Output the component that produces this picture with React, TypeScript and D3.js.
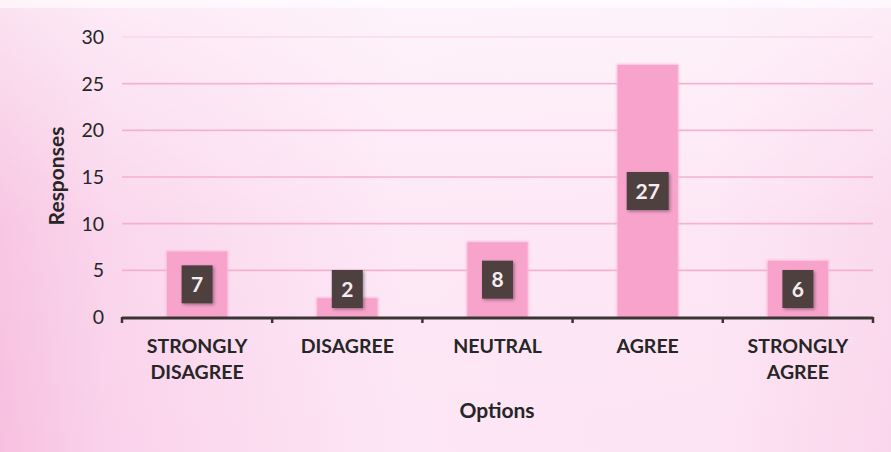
import React from "react";
import * as d3 from "d3";

const categories: string[][] = [
  ["STRONGLY", "DISAGREE"],
  ["DISAGREE"],
  ["NEUTRAL"],
  ["AGREE"],
  ["STRONGLY", "AGREE"],
];
const responses: number[] = [7, 2, 8, 27, 6];
const yTicks: number[] = [0, 5, 10, 15, 20, 25, 30];
const yTitle = "Responses";
const xTitle = "Options";

const W = 891;
const H = 452;
const FONT = "Lato, 'Open Sans', 'DejaVu Sans', sans-serif";

export default function App() {
  const left = 122;
  const right = 873;
  const top = 37;
  const bottom = 317;

  const x = d3
    .scaleBand<number>()
    .domain(d3.range(categories.length))
    .range([left, right])
    .paddingInner(0.6)
    .paddingOuter(0.3);
  const xOuter = d3
    .scaleBand<number>()
    .domain(d3.range(categories.length))
    .range([left, right]);
  const y = d3.scaleLinear().domain([0, 30]).range([bottom, top]);

  const boundaries = d3.range(categories.length + 1).map(
    (i) => left + (i * (right - left)) / categories.length
  );

  return (
    <div style={{ position: "fixed", left: 0, top: 0, width: W, height: H }}>
      <svg width={W} height={H} style={{ display: "block" }}>
        <defs>
          <linearGradient id="bg" x1="0" y1="0" x2="1" y2="0">
            <stop offset="0" stopColor="#f7c0e0" />
            <stop offset="0.12" stopColor="#fad2eb" />
            <stop offset="0.45" stopColor="#fde6f5" />
            <stop offset="0.8" stopColor="#fde4f4" />
            <stop offset="1" stopColor="#fad6ec" />
          </linearGradient>
          <linearGradient id="topfade" x1="0" y1="0" x2="0" y2="1">
            <stop offset="0" stopColor="#ffffff" stopOpacity="0.55" />
            <stop offset="0.5" stopColor="#ffffff" stopOpacity="0.1" />
            <stop offset="1" stopColor="#ffffff" stopOpacity="0" />
          </linearGradient>
          <filter id="shadow" x="-30%" y="-30%" width="160%" height="160%">
            <feDropShadow dx="1.5" dy="1.5" stdDeviation="1.5" floodColor="#000" floodOpacity="0.35" />
          </filter>
          <filter id="glow" x="-10%" y="-10%" width="120%" height="120%">
            <feGaussianBlur stdDeviation="1" />
          </filter>
        </defs>
        <rect x={0} y={0} width={W} height={H} fill="url(#bg)" />
        <rect x={0} y={0} width={W} height={H} fill="url(#topfade)" />
        <rect x={0} y={0} width={W} height={8} fill="#fff" opacity={0.6} />

        {/* gridlines */}
        {yTicks
          .filter((t) => t > 0)
          .map((t) => (
            <line
              key={t}
              x1={left}
              x2={right}
              y1={y(t)}
              y2={y(t)}
              stroke="#f2aacb"
              strokeWidth={1.6}
              opacity={t === 30 ? 0.3 : 0.85}
            />
          ))}

        {/* y tick labels */}
        {yTicks.map((t) => (
          <text
            key={t}
            x={104}
            y={y(t)}
            dy="0.36em"
            textAnchor="end"
            fontFamily={FONT}
            fontSize={19.5}
            fill="#262626"
          >
            {t}
          </text>
        ))}

        {/* y title */}
        <text
          transform={`translate(57,176) rotate(-90)`}
          textAnchor="middle"
          dy="0.35em"
          fontFamily={FONT}
          fontWeight="bold"
          fontSize={21}
          fill="#262626"
        >
          {yTitle}
        </text>

        {/* bars */}
        {responses.map((v, i) => (
          <g key={i}>
            <rect
              x={(x(i) as number) - 1}
              y={y(v) - 1}
              width={x.bandwidth() + 2}
              height={bottom - y(v) + 1}
              fill="#f9b8d8"
              filter="url(#glow)"
            />
            <rect
              x={x(i) as number}
              y={y(v)}
              width={x.bandwidth()}
              height={bottom - y(v)}
              fill="#f7a3cc"
            />
          </g>
        ))}

        {/* axis line and ticks */}
        <line x1={left} x2={right} y1={bottom + 1} y2={bottom + 1} stroke="#3a3535" strokeWidth={3} />
        {boundaries.map((bx, i) => (
          <line key={i} x1={bx} x2={bx} y1={bottom} y2={bottom + 6} stroke="#3a3535" strokeWidth={2.5} />
        ))}

        {/* data labels */}
        {responses.map((v, i) => {
          const label = String(v);
          const bw = label.length > 1 ? 42 : 31;
          const bh = 38;
          const mid = (y(v) + bottom) / 2;
          const cy = Math.min(mid, bottom - bh / 2 - 9);
          const cx = (x(i) as number) + x.bandwidth() / 2;
          return (
            <g key={i}>
              <rect
                x={cx - bw / 2}
                y={cy - bh / 2}
                width={bw}
                height={bh}
                fill="#4f3f40"
                filter="url(#shadow)"
              />
              <text
                x={cx}
                y={cy}
                dy="0.36em"
                textAnchor="middle"
                fontFamily={FONT}
                fontWeight="bold"
                fontSize={21}
                fill="#f4eef0"
              >
                {label}
              </text>
            </g>
          );
        })}

        {/* category labels */}
        {categories.map((lines, i) => {
          const cx = (xOuter(i) as number) + xOuter.bandwidth() / 2;
          return (
            <text
              key={i}
              x={cx}
              y={353}
              textAnchor="middle"
              fontFamily={FONT}
              fontWeight="bold"
              fontSize={19.5}
              fill="#262626"
            >
              {lines.map((l, j) => (
                <tspan key={j} x={cx} dy={j === 0 ? 0 : 26}>
                  {l}
                </tspan>
              ))}
            </text>
          );
        })}

        {/* x title */}
        <text
          x={497}
          y={418}
          textAnchor="middle"
          fontFamily={FONT}
          fontWeight="bold"
          fontSize={21}
          fill="#262626"
        >
          {xTitle}
        </text>
      </svg>
    </div>
  );
}
